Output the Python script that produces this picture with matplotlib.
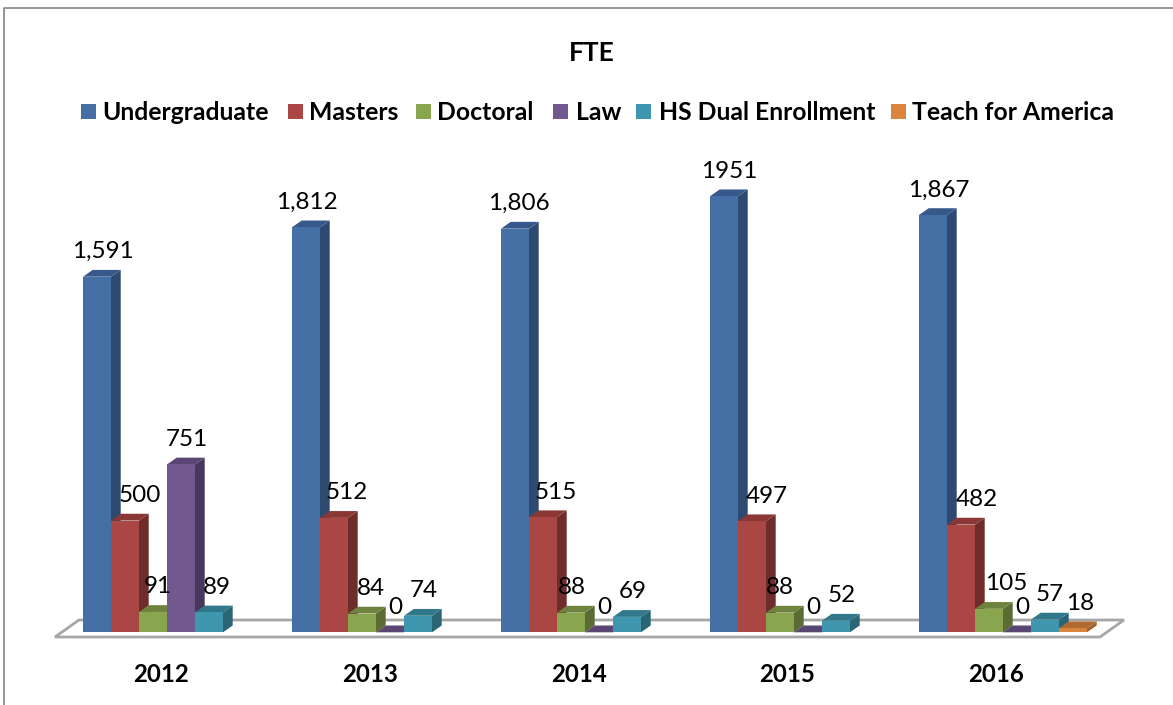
import numpy as np
import matplotlib
matplotlib.use("Agg")
import matplotlib.pyplot as plt
from matplotlib.patches import Polygon, Rectangle

plt.rcParams['font.family'] = ['Lato', 'DejaVu Sans']

years = ['2012', '2013', '2014', '2015', '2016']
series_names = ['Undergraduate', 'Masters', 'Doctoral', 'Law', 'HS Dual Enrollment', 'Teach for America']
undergraduate = [1591, 1812, 1806, 1951, 1867]
masters = [500, 512, 515, 497, 482]
doctoral = [91, 84, 88, 88, 105]
law = [751, 0, 0, 0, 0]
hs_dual = [89, 74, 69, 52, 57]
teach_for_america = [np.nan, np.nan, np.nan, np.nan, 18]
label_texts = [
    ['1,591', '1,812', '1,806', '1951', '1,867'],
    ['500', '512', '515', '497', '482'],
    ['91', '84', '88', '88', '105'],
    ['751', '0', '0', '0', '0'],
    ['89', '74', '69', '52', '57'],
    [None, None, None, None, '18'],
]
all_values = [undergraduate, masters, doctoral, law, hs_dual, teach_for_america]

front = ['#4470A5', '#AA4643', '#89A54E', '#71588F', '#3F97AF', '#DB843D']
side = ['#2E4A70', '#6E2C2A', '#5A6C33', '#47375D', '#2A6576', '#A0602C']
top = ['#36588A', '#8A3735', '#6E843E', '#5A4672', '#31788B', '#B06A32']

W, H = 1173, 705
BASE_PX, PX_PER_UNIT, GROUP_PX, X0_PX = 632.3, 0.2235, 209.0, 83.0
BAR_PX, DX_PX, DY_PX = 28.0, 9.7, 6.8

fig = plt.figure(figsize=(W / 100, H / 100), dpi=100, facecolor='white')
ax = fig.add_axes([0, 0, 1, 1])
ax.set_xlim(-X0_PX / GROUP_PX, (W - X0_PX) / GROUP_PX)
ax.set_ylim(-(H - BASE_PX) / PX_PER_UNIT, BASE_PX / PX_PER_UNIT)
ax.axis('off')

bw, dx, dy = BAR_PX / GROUP_PX, DX_PX / GROUP_PX, DY_PX / PX_PER_UNIT


def px(x, y):
    return x / W, 1 - y / H


# chart frame
ax.plot(*zip(px(4, H), px(4, 8), px(W, 8)), transform=ax.transAxes, color='#8E8E8E', lw=1.3, zorder=1, clip_on=False)

# floor
ax.add_patch(Polygon([px(55, 637), px(79, 620), px(1124, 620), px(1100, 637)], closed=True, transform=ax.transAxes,
                     facecolor='white', edgecolor='#A6A6A6', lw=2.0, zorder=2))

# label x shifts (px) relative to bar centre
shift = [[6, 1, 4, 5, 6],
         [15, 13, 13, 15, 16],
         [5, 9, 1, 0, 17],
         [6, 5, 5, 5, 5],
         [8, 6, 6, 6, 5],
         [0, 0, 0, 0, 7]]

z = 3
for g in range(len(years)):
    for s, vals in enumerate(all_values):
        v = vals[g]
        if np.isnan(v):
            continue
        x = g + s * bw
        ax.add_patch(Polygon([(x + bw, 0), (x + bw + dx, dy), (x + bw + dx, v + dy), (x + bw, v)],
                             facecolor=side[s], edgecolor='none', zorder=z))
        ax.add_patch(Polygon([(x, v), (x + dx, v + dy), (x + bw + dx, v + dy), (x + bw, v)],
                             facecolor=top[s], edgecolor='none', zorder=z))
        if v > 0:
            ax.bar(x, v, width=bw, align='edge', color=front[s], edgecolor='none', zorder=z)
        z += 1

for g in range(len(years)):
    for s, vals in enumerate(all_values):
        t = label_texts[s][g]
        if t is None:
            continue
        x = g + (s + 0.5) * bw + shift[s][g] / GROUP_PX
        y = vals[g] + 25 / PX_PER_UNIT
        ax.text(x, y, t, ha='center', va='center', fontsize=17.5, color='black', zorder=200)

# year labels
for g, yr in enumerate(years):
    x_px = 161 + g * 208.8
    fx, fy = px(x_px, 674)
    ax.text(fx, fy, yr, transform=ax.transAxes, ha='center', va='center', fontsize=17.3, fontweight='bold', zorder=200)

# title
fx, fy = px(592, 53)
ax.text(fx, fy, 'FTE', transform=ax.transAxes, ha='center', va='center', fontsize=19, fontweight='bold')

# legend
sq_px = [81, 288, 416, 553, 636, 891]
txt_px = [102, 309, 437, 576, 659, 912]
for name, c, sx, tx in zip(series_names, front, sq_px, txt_px):
    a, b = px(sx, 119)
    ax.add_patch(Rectangle((a, b), 15 / W, 15 / H, transform=ax.transAxes, facecolor=c, edgecolor='none'))
    a, b = px(tx, 112)
    ax.text(a, b, name, transform=ax.transAxes, ha='left', va='center', fontsize=17.8, fontweight='bold')

fig.savefig('out.png', dpi=100, facecolor='white')
